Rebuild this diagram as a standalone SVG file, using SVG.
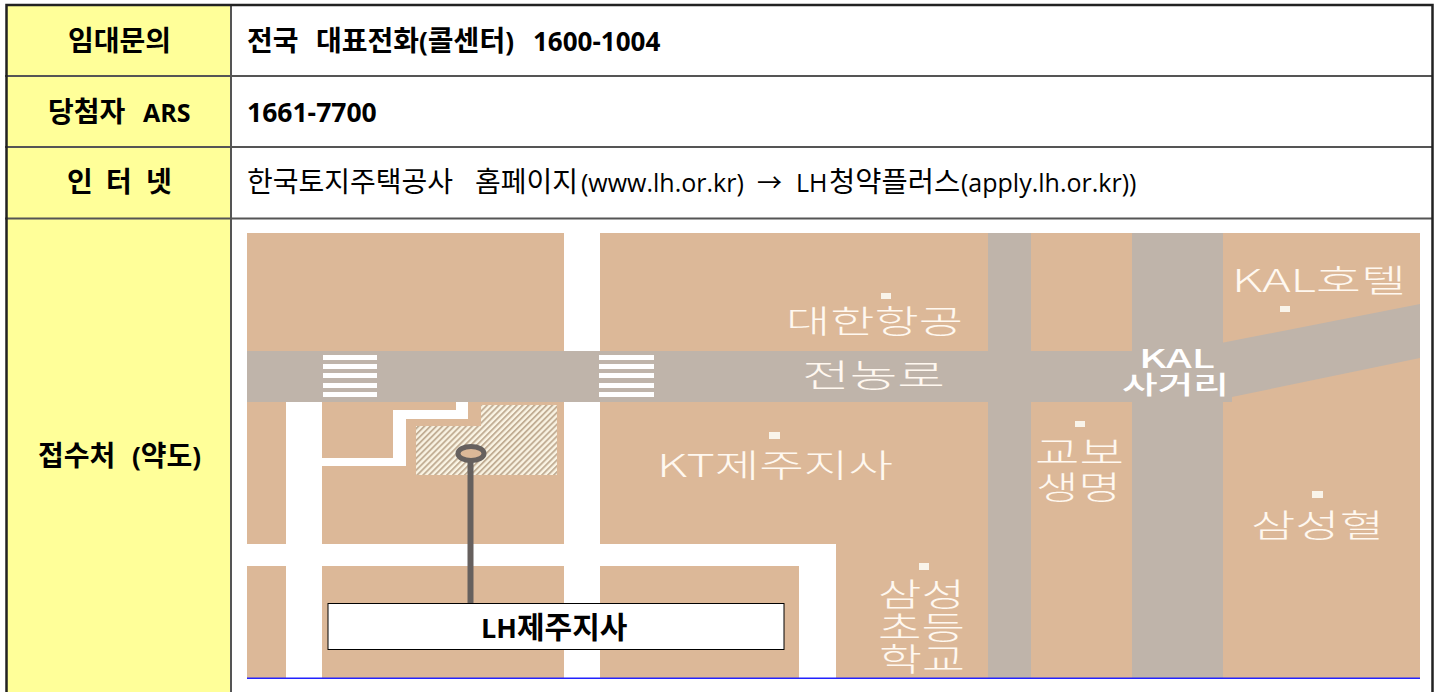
<svg xmlns="http://www.w3.org/2000/svg" width="1439" height="692" viewBox="0 0 1439 692">
<style>
text{white-space:pre}
.b{font:700 26px "Open Sans","Noto Sans CJK KR",sans-serif;fill:#000}
.r{font:400 25px "Open Sans","Noto Sans CJK KR",sans-serif;fill:#000}
.hg{font-family:"Noto Sans CJK KR",sans-serif;font-size:28px}
.m{font:300 32px "Noto Sans CJK KR",sans-serif;fill:#fff8f0}
.k{font:500 25px "Noto Sans CJK KR",sans-serif;fill:#fff}
.cell{fill:#ffff99}
.road{fill:#bfb4aa}
.w{fill:#fff}
.d{fill:#f9f4ea}
</style>
<defs>
<pattern id="hatch" width="4.200" height="4.200" patternUnits="userSpaceOnUse" patternTransform="rotate(45)">
<rect width="4.200" height="4.200" fill="#faf4e4"/><rect width="1.900" height="4.200" fill="#c2ae95"/>
</pattern>
</defs>
<rect width="1439" height="692" fill="#fff"/>
<g id="table">
<rect class="cell" x="7" y="5" width="224" height="687"/>
<path d="M5 76H1432M5 147H1432M5 218.500H1432M231 5V692" fill="none" stroke="#555" stroke-width="2"/>
<path d="M6.500 692V5H1432.500V692" fill="none" stroke="#222" stroke-width="2.500"/>
<text class="b hg" x="68" y="51">임대문의</text>
<text class="b" y="122"><tspan class="hg" x="48">당첨자  </tspan><tspan x="143" style="font-size:25px">ARS</tspan></text>
<text class="b hg" y="192"><tspan x="67">인  </tspan><tspan x="106">터  </tspan><tspan x="146">넷</tspan></text>
<text class="b" y="466"><tspan class="hg" x="38">접수처  </tspan><tspan x="132">(</tspan><tspan class="hg">약도</tspan><tspan>)</tspan></text>
<text class="b" y="51"><tspan class="hg" x="247">전국  </tspan><tspan class="hg" x="316">대표전화</tspan><tspan>(</tspan><tspan class="hg">콜센터</tspan><tspan>)  </tspan><tspan x="533">1600-1004</tspan></text>
<text class="b" x="247" y="122" style="font-size:26.500px">1661-7700</text>
<text class="r" y="192"><tspan class="hg" x="247">한국토지주택공사  </tspan><tspan class="hg" x="475">홈페이지</tspan><tspan x="581">(www.lh.or.kr)  </tspan><tspan x="757">→  </tspan><tspan x="796">LH</tspan><tspan class="hg" x="829" style="font-size:28.500px">청약플러스</tspan><tspan x="961">(apply.lh.or.kr))</tspan></text>
</g>
<g id="map">
<rect x="247" y="233" width="1173" height="445" fill="#dcb898"/>
<rect class="road" x="988" y="233" width="43" height="445"/>
<rect class="road" x="1132" y="233" width="91" height="445"/>
<rect class="road" x="247" y="351" width="985" height="51"/>
<polygon class="road" points="1221,343 1420,304 1420,358 1227,398 1221,398"/>
<rect class="w" x="564" y="233" width="36" height="118"/>
<rect class="w" x="564" y="402" width="36" height="276"/>
<rect class="w" x="286" y="402" width="36" height="276"/>
<rect class="w" x="247" y="544" width="589" height="22"/>
<rect class="w" x="799" y="544" width="37" height="134"/>
<g class="w">
<rect x="323" y="355" width="54" height="5"/><rect x="323" y="364" width="54" height="5"/><rect x="323" y="373" width="54" height="5"/><rect x="323" y="383" width="54" height="5"/><rect x="323" y="392" width="54" height="5"/>
<rect x="599" y="355" width="55" height="5"/><rect x="599" y="364" width="55" height="5"/><rect x="599" y="373" width="55" height="5"/><rect x="599" y="383" width="55" height="5"/><rect x="599" y="392" width="55" height="5"/>
</g>
<path class="w" d="M322 458H393V410H456V402H468V419H406V466H322Z"/>
<polygon points="481,405 557,405 557,475 416,475 416,426 481,426" fill="url(#hatch)"/>
<g class="d">
<rect x="881" y="293" width="10" height="6"/><rect x="1280" y="306" width="10" height="6"/><rect x="769" y="432" width="11" height="7"/><rect x="1075" y="421" width="10" height="6"/><rect x="1312" y="491" width="11" height="7"/><rect x="919" y="563" width="10" height="7"/>
</g>
<text class="m" x="786" y="333" textLength="177" lengthAdjust="spacingAndGlyphs">대한항공</text>
<text class="m" x="802" y="387" textLength="143" lengthAdjust="spacingAndGlyphs">전농로</text>
<text class="m" x="1232" y="292" textLength="174" lengthAdjust="spacingAndGlyphs">KAL호텔</text>
<text class="m" x="657" y="477" textLength="236" lengthAdjust="spacingAndGlyphs">KT제주지사</text>
<text class="m" x="1035" y="464" textLength="89" lengthAdjust="spacingAndGlyphs">교보</text>
<text class="m" x="1036" y="499" textLength="85" lengthAdjust="spacingAndGlyphs">생명</text>
<text class="m" x="1251" y="537" textLength="133" lengthAdjust="spacingAndGlyphs">삼성혈</text>
<text class="m" x="878" y="606" textLength="87" lengthAdjust="spacingAndGlyphs">삼성</text>
<text class="m" x="878" y="639" textLength="87" lengthAdjust="spacingAndGlyphs">초등</text>
<text class="m" x="879" y="671" textLength="86" lengthAdjust="spacingAndGlyphs">학교</text>
<text class="k" x="1139" y="368" textLength="76" lengthAdjust="spacingAndGlyphs">KAL</text>
<text class="k" x="1122" y="394" textLength="107" lengthAdjust="spacingAndGlyphs">사거리</text>
<rect x="247" y="677.500" width="1173" height="1.500" fill="#2222ff"/>
</g>
<g id="connectors">
<line x1="470.500" y1="462" x2="470.500" y2="603" stroke="#66605e" stroke-width="6"/>
</g>
<g id="marker"><ellipse cx="471" cy="453.500" rx="13" ry="7" fill="#dcb898" stroke="#66605e" stroke-width="5"/></g>
<g id="lh-box">
<rect x="328" y="603.500" width="456" height="46" fill="#fff" stroke="#000" stroke-width="1"/>
<text class="b" y="638" font-size="27"><tspan x="481" style="font-size:27px">LH</tspan><tspan class="hg" x="517" style="font-size:30px">제주지사</tspan></text>
</g>
</svg>
